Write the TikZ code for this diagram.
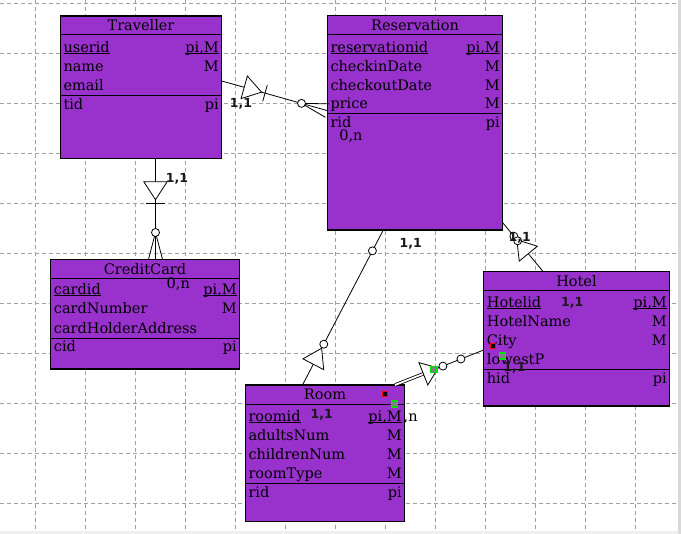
\documentclass[tikz,border=0pt]{standalone}
\usepackage{fontspec}
\setmainfont{DejaVu Serif}
\newfontfamily\lblfam{DejaVu Sans}
\usetikzlibrary{calc}
\definecolor{erpurple}{HTML}{9932CC}
\definecolor{gridgray}{HTML}{A0A0A0}
\definecolor{mkgreen}{HTML}{00E000}
\newcommand\erfont{\fontsize{14.5}{17}\selectfont}
\newcommand\lblfont{\lblfam\bfseries\fontsize{12.5}{14}\selectfont}
\newcommand\ulx[1]{\setbox0\hbox{#1}\rlap{\rule[-1.8pt]{\wd0}{0.9pt}}\box0}
\tikzset{
  gridline/.style={draw=gridgray, dash pattern=on 4pt off 3pt, line width=0.8pt},
  entity/.style={draw=black, fill=erpurple, line width=1.3pt, rectangle, inner sep=0pt, outer sep=0pt, anchor=north west},
  sepline/.style={draw=black, line width=1pt},
  hdr/.style={anchor=base, inner sep=0pt, font=\erfont},
  attl/.style={anchor=base west, inner sep=0pt, font=\erfont},
  attr/.style={anchor=base east, inner sep=0pt, font=\erfont},
  lbl/.style={inner sep=0pt, font=\lblfont, text=black!90},
  card/.style={anchor=base, inner sep=0pt, font=\erfont},
  conn/.style={draw=black, line width=0.8pt},
  openc/.style={draw=black, fill=white, line width=0.8pt},
  redmk/.style={rectangle, draw=red, fill=black, line width=1.1pt, minimum size=5pt, inner sep=0pt},
  greenmk/.style={rectangle, draw=mkgreen, fill=gray, line width=1.1pt, minimum size=6pt, inner sep=0pt},
}
\begin{document}
\begin{tikzpicture}[x=1pt,y=-1pt]
\useasboundingbox (0,0) rectangle (681,534);
\fill[white] (0,0) rectangle (681,534);
% grid
\foreach \gx in {35.5,85.5,...,635.5} \draw[gridline] (\gx,0) -- (\gx,531.5);
\foreach \gy in {3.3,53.3,...,503.3} \draw[gridline] (0,\gy) -- (677.5,\gy);
\fill[gray!30] (677.5,0) rectangle (681,534);
\fill[gray!12] (0,531.5) rectangle (677.5,534);

% ---------- Traveller ----------
\node[entity, minimum width=161.4pt, minimum height=142.3pt] (trav) at (60.3,16) {};
\node[hdr] (travh) at (141,31) {Traveller};
\draw[sepline] (60.3,35) -- (221.7,35);
\node[attl] (tr1) at (63.3,52.5) {\ulx{userid}};
\node[attr] (tr1r) at (219,52.5) {\ulx{pi,M}};
\node[attl] (tr2) at (63.3,71.5) {name};
\node[attr] (tr2r) at (219,71.5) {M};
\node[attl] (tr3) at (63.3,90.5) {email};
\draw[sepline] (60.3,95.5) -- (221.7,95.5);
\node[attl] (tr4) at (63.3,109.3) {tid};
\node[attr] (tr4r) at (219,109.3) {pi};

% ---------- Reservation ----------
\node[entity, minimum width=175.4pt, minimum height=214.7pt] (res) at (327.3,15.3) {};
\node[hdr] (resh) at (415,30.3) {Reservation};
\draw[sepline] (327.3,34.3) -- (502.7,34.3);
\node[attl] (rs1) at (330.3,52.3) {\ulx{reservationid}};
\node[attr] (rs1r) at (500,52.3) {\ulx{pi,M}};
\node[attl] (rs2) at (330.3,71.3) {checkinDate};
\node[attr] (rs2r) at (500,71.3) {M};
\node[attl] (rs3) at (330.3,90.3) {checkoutDate};
\node[attr] (rs3r) at (500,90.3) {M};
\node[attl] (rs4) at (330.3,109) {price};
\node[attr] (rs4r) at (500,109) {M};
\draw[sepline] (327.3,113.3) -- (502.7,113.3);
\node[attl] (rs5) at (330.3,127.3) {rid};
\node[attr] (rs5r) at (500,127.3) {pi};

% ---------- CreditCard ----------
\node[entity, minimum width=188.6pt, minimum height=109.7pt] (cc) at (50.7,259.3) {};
\node[hdr] (cch) at (145,274.3) {CreditCard};
\draw[sepline] (50.7,278.3) -- (239.3,278.3);
\node[attl] (cc1) at (53.7,294.5) {\ulx{cardid}};
\node[attr] (cc1r) at (237,294.5) {\ulx{pi,M}};
\node[attl] (cc2) at (53.7,314) {cardNumber};
\node[attr] (cc2r) at (237,314) {M};
\node[attl] (cc3) at (53.7,333.3) {cardHolderAddress};
\draw[sepline] (50.7,338.3) -- (239.3,338.3);
\node[attl] (cc4) at (53.7,351.7) {cid};
\node[attr] (cc4r) at (237,351.7) {pi};

% ---------- Room ----------
\node[entity, minimum width=159pt, minimum height=136.5pt] (room) at (245.3,385) {};
\node[hdr] (roomh) at (325,400) {Room};
\draw[sepline] (245.3,404.3) -- (404.3,404.3);
\node[attl] (ro1) at (248.3,421.5) {\ulx{roomid}};
\node[attr] (ro1r) at (402,421.5) {\ulx{pi,M}};
\node[attl] (ro2) at (248.3,440.5) {adultsNum};
\node[attr] (ro2r) at (402,440.5) {M};
\node[attl] (ro3) at (248.3,459.5) {childrenNum};
\node[attr] (ro3r) at (402,459.5) {M};
\node[attl] (ro4) at (248.3,478.3) {roomType};
\node[attr] (ro4r) at (402,478.3) {M};
\draw[sepline] (245.3,483.3) -- (404.3,483.3);
\node[attl] (ro5) at (248.3,497.3) {rid};
\node[attr] (ro5r) at (402,497.3) {pi};

% ---------- Hotel ----------
\node[entity, minimum width=185.6pt, minimum height=134.3pt] (hotel) at (483.7,271.7) {};
\node[hdr] (hoh) at (576.5,286.7) {Hotel};
\draw[sepline] (483.7,290.7) -- (669.3,290.7);
\node[attl] (ho1) at (486.7,307.3) {\ulx{Hotelid}};
\node[attr] (ho1r) at (667,307.3) {\ulx{pi,M}};
\node[attl] (ho2) at (486.7,326.3) {HotelName};
\node[attr] (ho2r) at (667,326.3) {M};
\node[attl] (ho3) at (486.7,345.3) {City};
\node[attr] (ho3r) at (667,345.3) {M};
\node[attl] (ho4) at (486.7,364.3) {lowestP};
\draw[sepline] (483.7,369.7) -- (669.3,369.7);
\node[attl] (ho5) at (486.7,383.7) {hid};
\node[attr] (ho5r) at (667,383.7) {pi};

% ---------- connector end points ----------
\coordinate (c1a) at ($(trav.north east)+(0,65)$);
\coordinate (c1b) at ($(res.north west)+(0,95.3)$);
\coordinate (c2a) at ($(trav.south west)+(95.2,0)$);
\coordinate (c2b) at ($(cc.north west)+(104.8,0)$);
\coordinate (c3a) at ($(res.south west)+(56,0)$);
\coordinate (c3b) at ($(room.north west)+(57.2,0)$);
\coordinate (c4a) at ($(res.north east)+(0,207.4)$);
\coordinate (c4b) at ($(hotel.north west)+(59.5,0)$);
\coordinate (c5a) at ($(hotel.north west)+(0,78.3)$);
\coordinate (c5b) at ($(room.north west)+(149.7,0)$);

% ---------- Traveller -- Reservation ----------
\draw[conn] (c1a) -- (c1b);
\draw[conn] ($(c1b)!26.8pt!(c1a)$) -- ($(c1b)!7pt!90:(c1a)$);
\draw[conn] ($(c1b)!26.8pt!(c1a)$) -- ($(c1b)!7pt!-90:(c1a)$);
\draw[openc] ($(c1b)!26.8pt!(c1a)$) circle[radius=4pt];
\coordinate (t1m) at ($(c1a)!23.4pt!(c1b)$);
\draw[openc] ($(t1m)!11.7pt!90:(c1b)$) -- ($(c1a)!41.4pt!(c1b)$) -- ($(t1m)!11.7pt!-90:(c1b)$) -- cycle;
\coordinate (x1) at ($(c1a)!45pt!(c1b)$);
\draw[conn] ($(x1)!8.5pt!90:(c1b)$) -- ($(x1)!8.5pt!-90:(c1b)$);

% ---------- Traveller -- CreditCard ----------
\draw[conn] (c2a) -- (c2b);
\draw[conn] ($(c2b)!26.8pt!(c2a)$) -- ($(c2b)!7pt!90:(c2a)$);
\draw[conn] ($(c2b)!26.8pt!(c2a)$) -- ($(c2b)!7pt!-90:(c2a)$);
\draw[openc] ($(c2b)!26.8pt!(c2a)$) circle[radius=4pt];
\coordinate (t2m) at ($(c2a)!23.4pt!(c2b)$);
\draw[openc] ($(t2m)!11.7pt!90:(c2b)$) -- ($(c2a)!41.4pt!(c2b)$) -- ($(t2m)!11.7pt!-90:(c2b)$) -- cycle;
\coordinate (x2) at ($(c2a)!45pt!(c2b)$);
\draw[conn] ($(x2)!9.5pt!90:(c2b)$) -- ($(x2)!9.5pt!-90:(c2b)$);

% ---------- Reservation -- Room ----------
\draw[conn] (c3a) -- (c3b);
\draw[openc] ($(c3a)!23.5pt!(c3b)$) circle[radius=4pt];
\coordinate (t3m) at ($(c3b)!23.4pt!(c3a)$);
\draw[openc] ($(t3m)!11.7pt!90:(c3a)$) -- ($(c3b)!41.4pt!(c3a)$) -- ($(t3m)!11.7pt!-90:(c3a)$) -- cycle;
\draw[openc] ($(c3b)!46pt!(c3a)$) circle[radius=4pt];

% ---------- Reservation -- Hotel ----------
\draw[conn] (c4a) -- (c4b);
\coordinate (t4m) at ($(c4b)!23.4pt!(c4a)$);
\draw[openc] ($(t4m)!11.7pt!90:(c4a)$) -- ($(c4b)!41.4pt!(c4a)$) -- ($(t4m)!11.7pt!-90:(c4a)$) -- cycle;
\draw[openc] ($(c4b)!46pt!(c4a)$) circle[radius=4pt];
\draw[openc] ($(c4a)!23.5pt!(c4b)$) circle[radius=4pt];

% ---------- Room -- Hotel ----------
\coordinate (t5m) at ($(c5b)!30.5pt!(c5a)$);
\draw[conn] (t5m) -- (c5a);
\draw[conn, double, double distance=1.8pt] (c5b) -- (t5m);
\draw[openc] ($(t5m)!12pt!90:(c5a)$) -- ($(c5b)!46.5pt!(c5a)$) -- ($(t5m)!12pt!-90:(c5a)$) -- cycle;
\draw[openc] ($(c5b)!51.5pt!(c5a)$) circle[radius=4pt];
\draw[openc] ($(c5a)!24.5pt!(c5b)$) circle[radius=4pt];

% ---------- cardinality labels ----------
\node[lbl] (l1) at (241,104.3) {1,1};
\node[lbl] (l2) at (177,179) {1,1};
\node[card] (l3) at (351,140.5) {0,n};
\node[card] (l4) at (178.3,288.3) {0,n};
\node[lbl] (l5) at (410.8,244) {1,1};
\node[lbl] (l6) at (519.7,238.3) {1,1};
\node[lbl] (l7) at (572.2,302.8) {1,1};
\node[lbl] (l8) at (514.5,368) {1,1};
\node[lbl] (l9) at (321.7,414.7) {1,1};
\node[attl] (l10) at (403.5,421.5) {,n};

% ---------- markers ----------
\node[redmk] (m1) at (385,394) {};
\node[greenmk] (m2) at (394.5,404) {};
\node[redmk] (m3) at (492.7,345.7) {};
\node[greenmk] (m4) at (502.7,356) {};
\node[greenmk] (m5) at (434,369.5) {};
\end{tikzpicture}
\end{document}
